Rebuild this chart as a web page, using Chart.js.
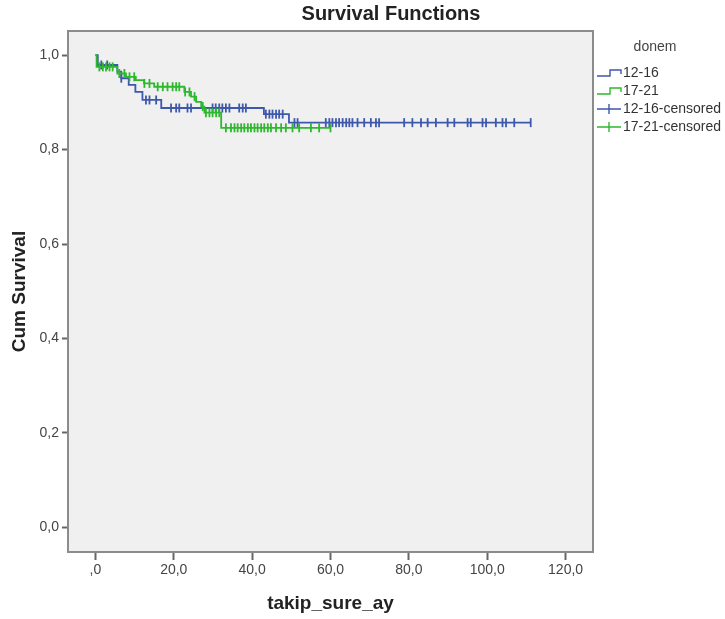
<!DOCTYPE html>
<html>
<head>
<meta charset="utf-8">
<script src="https://cdn.jsdelivr.net/npm/chart.js@4.4.1/dist/chart.umd.min.js"></script>
<style>
  html, body { margin: 0; padding: 0; background: #fff; }
</style>
</head>
<body>
<canvas id="km" width="725" height="619"></canvas>
<script>
// groups and legend
const legendTitle = 'donem';
const legendLabels = ['12-16', '17-21', '12-16-censored', '17-21-censored'];

// 12-16: event times (months) and survival after each step
const eventTimes1216 = [0, 0.6, 5.6, 6.6, 8.5, 10.2, 12.0, 16.8, 43.0, 49.4];
const survival1216 = [1.0, 0.979, 0.965, 0.951, 0.937, 0.922, 0.905, 0.888, 0.875, 0.857];
const censored1216 = [1.5, 3.0, 6.6, 12.9, 13.8, 15.5, 19.3, 20.6, 21.4, 23.5, 24.4,
  29.9, 30.7, 31.6, 32.4, 33.3, 34.2, 36.7, 37.6, 38.4, 43.5, 44.4, 45.2, 46.1, 46.9, 47.8,
  50.8, 51.6, 58.8, 59.7, 60.5, 61.4, 62.2, 63.1, 64.0, 64.8, 65.6, 66.9, 68.6, 70.3,
  71.6, 72.4, 78.8, 80.9, 83.1, 84.8, 86.9, 89.9, 91.6, 95.0, 95.8, 98.8, 99.7, 102.2,
  103.9, 104.8, 106.9, 111.1];

// 17-21
const eventTimes1721 = [0, 0.3, 5.6, 7.8, 10.3, 12.4, 15.0, 22.7, 24.4, 25.7, 27.0, 27.8, 32.1];
const survival1721 = [1.0, 0.975, 0.961, 0.954, 0.947, 0.940, 0.933, 0.922, 0.912, 0.901, 0.891, 0.878, 0.846];
const censored1721 = [1.0, 1.9, 2.7, 3.6, 4.4, 6.1, 7.4, 8.7, 9.9, 12.5, 13.8, 15.9, 17.2,
  18.4, 19.7, 20.6, 21.4, 22.9, 24.0, 25.3, 27.4, 28.2, 29.1, 29.9, 30.8, 31.6, 33.3,
  34.6, 35.5, 36.3, 37.2, 38.0, 38.9, 39.7, 40.6, 41.4, 42.3, 43.1, 44.0, 44.8, 46.1,
  47.4, 48.6, 50.3, 52.0, 55.0, 57.1, 60.0];

const xTicks = [0, 20, 40, 60, 80, 100, 120];
const yTicks = [0, 0.2, 0.4, 0.6, 0.8, 1.0];

const blue = '#3e58ac';
const green = '#2eb82e';
const fontFamily = '"Liberation Sans", Arial, sans-serif';

function stepPoints(times, surv, censored) {
    const pts = times.map((t, i) => ({x: t, y: surv[i]}));
    const last = censored[censored.length - 1];
    if (last > times[times.length - 1]) pts.push({x: last, y: surv[surv.length - 1]});
    return pts;
}

function survivalAt(times, surv, t) {
    let s = surv[0];
    for (let i = 0; i < times.length; i++) {
        if (times[i] <= t) s = surv[i];
    }
    return s;
}

function censorPoints(times, surv, censored) {
    return censored.map(t => ({x: t, y: survivalAt(times, surv, t)}));
}

const fmt = v => (v === 0 ? ',0' : v.toFixed(1).replace('.', ','));

const framePlugin = {
    id: 'frame',
    beforeDraw(chart) {
        const {ctx, chartArea: a} = chart;
        ctx.save();
        ctx.fillStyle = '#f0f0f0';
        ctx.fillRect(a.left, a.top, a.right - a.left, a.bottom - a.top);
        ctx.restore();
    },
    afterDraw(chart) {
        const {ctx, chartArea: a} = chart;
        ctx.save();
        ctx.strokeStyle = '#8c8c8c';
        ctx.lineWidth = 2;
        ctx.strokeRect(a.left, a.top, a.right - a.left, a.bottom - a.top);

        // title
        ctx.fillStyle = '#222';
        ctx.font = 'bold 20px ' + fontFamily;
        ctx.textAlign = 'center';
        ctx.textBaseline = 'middle';
        ctx.fillText('Survival Functions', 391, 14);

        // legend
        ctx.font = '14px ' + fontFamily;
        ctx.fillStyle = '#444';
        ctx.fillText(legendTitle, 655, 47);
        ctx.textAlign = 'left';
        ctx.fillStyle = '#333';
        const colors = [blue, green, blue, green];
        legendLabels.forEach((lab, i) => {
            const y = 73 + i * 18;
            const x0 = 597, x1 = 621;
            ctx.strokeStyle = colors[i];
            ctx.lineWidth = 1.4;
            ctx.beginPath();
            if (i < 2) {
                ctx.moveTo(x0, y + 3);
                ctx.lineTo(x0 + 13, y + 3);
                ctx.lineTo(x0 + 13, y - 3);
                ctx.lineTo(x1, y - 3);
                ctx.lineTo(x1, y + 1);
            } else {
                ctx.moveTo(x0, y);
                ctx.lineTo(x1, y);
                ctx.moveTo(x0 + 12, y - 5);
                ctx.lineTo(x0 + 12, y + 5);
            }
            ctx.stroke();
            ctx.fillText(lab, x1 + 2, y);
        });
        ctx.restore();
    }
};

const ctx = document.getElementById('km');
new Chart(ctx, {
    type: 'scatter',
    data: {
        datasets: [
            {
                label: '17-21-censored',
                data: censorPoints(eventTimes1721, survival1721, censored1721),
                showLine: false,
                pointStyle: 'line',
                rotation: 90,
                pointRadius: 4.5,
                borderColor: green,
                backgroundColor: green,
                borderWidth: 1.8,
            },
            {
                label: '17-21',
                data: stepPoints(eventTimes1721, survival1721, censored1721),
                showLine: true,
                stepped: 'before',
                pointRadius: 0,
                borderColor: green,
                borderWidth: 1.8,
            },
            {
                label: '12-16-censored',
                data: censorPoints(eventTimes1216, survival1216, censored1216),
                showLine: false,
                pointStyle: 'line',
                rotation: 90,
                pointRadius: 4.5,
                borderColor: blue,
                backgroundColor: blue,
                borderWidth: 1.8,
            },
            {
                label: '12-16',
                data: stepPoints(eventTimes1216, survival1216, censored1216),
                showLine: true,
                stepped: 'before',
                pointRadius: 0,
                borderColor: blue,
                borderWidth: 1.8,
            },
        ]
    },
    options: {
        responsive: false,
        animation: false,
        devicePixelRatio: 1,
        layout: {padding: {top: 31, right: 132, left: 0, bottom: 0}},
        scales: {
            x: {
                type: 'linear',
                min: -7,
                max: 127,
                afterBuildTicks: s => { s.ticks = xTicks.map(v => ({value: v})); },
                afterFit: s => { s.height = 67; },
                grid: {drawOnChartArea: false, tickLength: 8, tickColor: '#666', tickWidth: 2},
                border: {display: false},
                ticks: {
                    callback: v => fmt(v),
                    color: '#444',
                    padding: 2,
                    maxRotation: 0,
                    font: {family: fontFamily, size: 14},
                },
                title: {
                    display: true,
                    text: 'takip_sure_ay',
                    color: '#222',
                    padding: {top: 0, bottom: 4},
                    font: {family: fontFamily, size: 19, weight: 'bold'},
                },
            },
            y: {
                type: 'linear',
                min: -0.052,
                max: 1.051,
                afterBuildTicks: s => { s.ticks = yTicks.map(v => ({value: v})); },
                afterFit: s => { s.width = 68; },
                grid: {drawOnChartArea: false, tickLength: 6, tickColor: '#666', tickWidth: 2},
                border: {display: false},
                ticks: {
                    callback: v => v.toFixed(1).replace('.', ','),
                    color: '#444',
                    padding: 3,
                    font: {family: fontFamily, size: 14},
                },
                title: {
                    display: true,
                    text: 'Cum Survival',
                    color: '#222',
                    padding: {top: 8, bottom: 0},
                    font: {family: fontFamily, size: 19, weight: 'bold'},
                },
            }
        },
        plugins: {
            legend: {display: false},
            tooltip: {enabled: false},
        }
    },
    plugins: [framePlugin]
});
</script>
</body>
</html>
